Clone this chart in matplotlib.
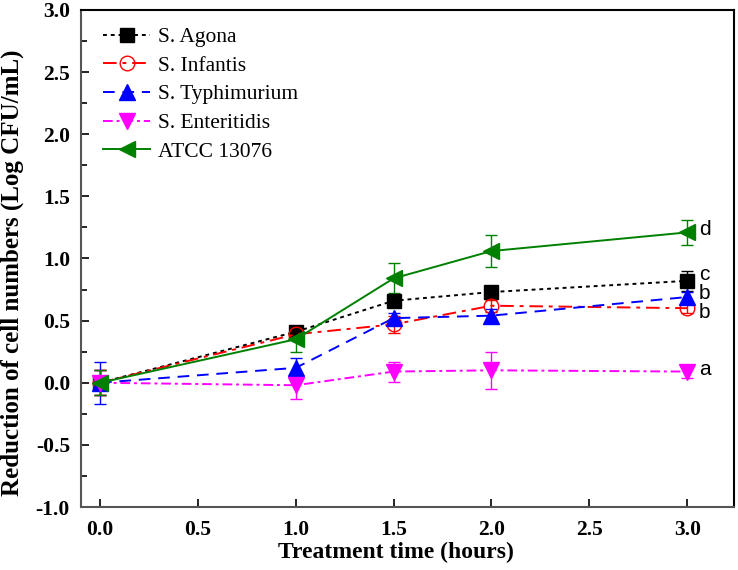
import numpy as np
import matplotlib
matplotlib.use("Agg")
import matplotlib.pyplot as plt
from matplotlib.ticker import MultipleLocator

plt.rcParams["axes.unicode_minus"] = False

# Datos
tiempo = [0.0, 1.0, 1.5, 2.0, 3.0]

agona = [0.0, 0.41, 0.66, 0.73, 0.82]
agona_err = [0.10, 0.03, 0.05, 0.03, 0.08]

infantis = [0.0, 0.39, 0.47, 0.62, 0.60]
infantis_err = [0.10, 0.03, 0.07, 0.05, 0.04]

typhimurium = [0.0, 0.12, 0.52, 0.54, 0.69]
typhimurium_err = [0.17, 0.08, 0.04, 0.05, 0.04]

enteritidis = [0.0, -0.02, 0.09, 0.10, 0.09]
enteritidis_err = [0.10, 0.11, 0.08, 0.15, 0.05]

atcc = [0.0, 0.35, 0.84, 1.06, 1.21]
atcc_err = [0.10, 0.10, 0.12, 0.13, 0.10]

nombres = ["S. Agona", "S. Infantis", "S. Typhimurium", "S. Enteritidis", "ATCC 13076"]
letras = ["c", "b", "b", "a", "d"]
letras_y = [0.875, 0.715, 0.565, 0.105, 1.235]

series = [agona, infantis, typhimurium, enteritidis, atcc]
errores = [agona_err, infantis_err, typhimurium_err, enteritidis_err, atcc_err]

#Estilos de cada serie
colores = ["black", "red", "blue", "magenta", "#008000"]
estilos = [(0, (2, 2)), (0, (7, 3, 2, 3)), (0, (6, 4)), (0, (5, 2, 1.5, 2)), "-"]
marcadores = ["s", "o", "^", "v", "<"]
tamanos = [10, 10.5, 11, 11, 11]

fig = plt.figure(figsize=(7.38, 5.70), dpi=100)
ax = fig.add_axes([0.1098, 0.1105, 0.885, 0.872])

lineas = []
for y, e, c, ls, m, ms in zip(series, errores, colores, estilos, marcadores, tamanos):
    mfc = "none" if m == "o" else c
    cont = ax.errorbar(tiempo, y, yerr=e, color=c, linestyle=ls, linewidth=1.4,
                       marker=m, markersize=ms, markerfacecolor=mfc, markeredgecolor=c,
                       markeredgewidth=1.0, capsize=4, elinewidth=1.0, capthick=1.0)
    lineas.append(cont[0])

for l, ly in zip(letras, letras_y):
    ax.text(3.06, ly, l, fontsize=15, family="Liberation Sans", va="center", ha="left")

ax.set_xlim(-0.097, 3.24)
ax.set_ylim(-1.0, 3.0)
ax.xaxis.set_major_locator(MultipleLocator(0.5))
ax.yaxis.set_major_locator(MultipleLocator(0.5))
ax.yaxis.set_minor_locator(MultipleLocator(0.25))
ax.tick_params(which="both", direction="in", top=False, right=False)
ax.tick_params(which="major", length=6, width=1.2)
ax.tick_params(which="minor", length=4, width=1.2)
ax.tick_params(axis="x", pad=9)
ax.tick_params(axis="y", pad=8)

for lab in ax.get_xticklabels() + ax.get_yticklabels():
    lab.set_family("Liberation Serif")
    lab.set_fontweight("bold")
    lab.set_fontsize(15.5)

ax.spines["left"].set_color("#555555")
ax.spines["bottom"].set_color("#555555")
for s in ax.spines.values():
    s.set_linewidth(1.5)

ax.set_xlabel("Treatment time (hours)", family="Liberation Serif", fontweight="bold",
              fontsize=17, va="center")
ax.xaxis.set_label_coords(0.482, -0.0905)
ax.set_ylabel("Reduction of cell numbers (Log CFU/mL)", family="Liberation Serif",
              fontweight="bold", fontsize=18, va="center")
ax.yaxis.set_label_coords(-0.1057, 0.471)

ax.legend(handles=lineas, labels=nombres, loc="upper left", frameon=False,
          prop={"family": "Liberation Serif", "size": 15.5},
          handlelength=2.2, handletextpad=0.33, labelspacing=0.4,
          borderpad=0, borderaxespad=0, bbox_to_anchor=(0.0337, 0.9658))

plt.savefig("out.png", dpi=100)
